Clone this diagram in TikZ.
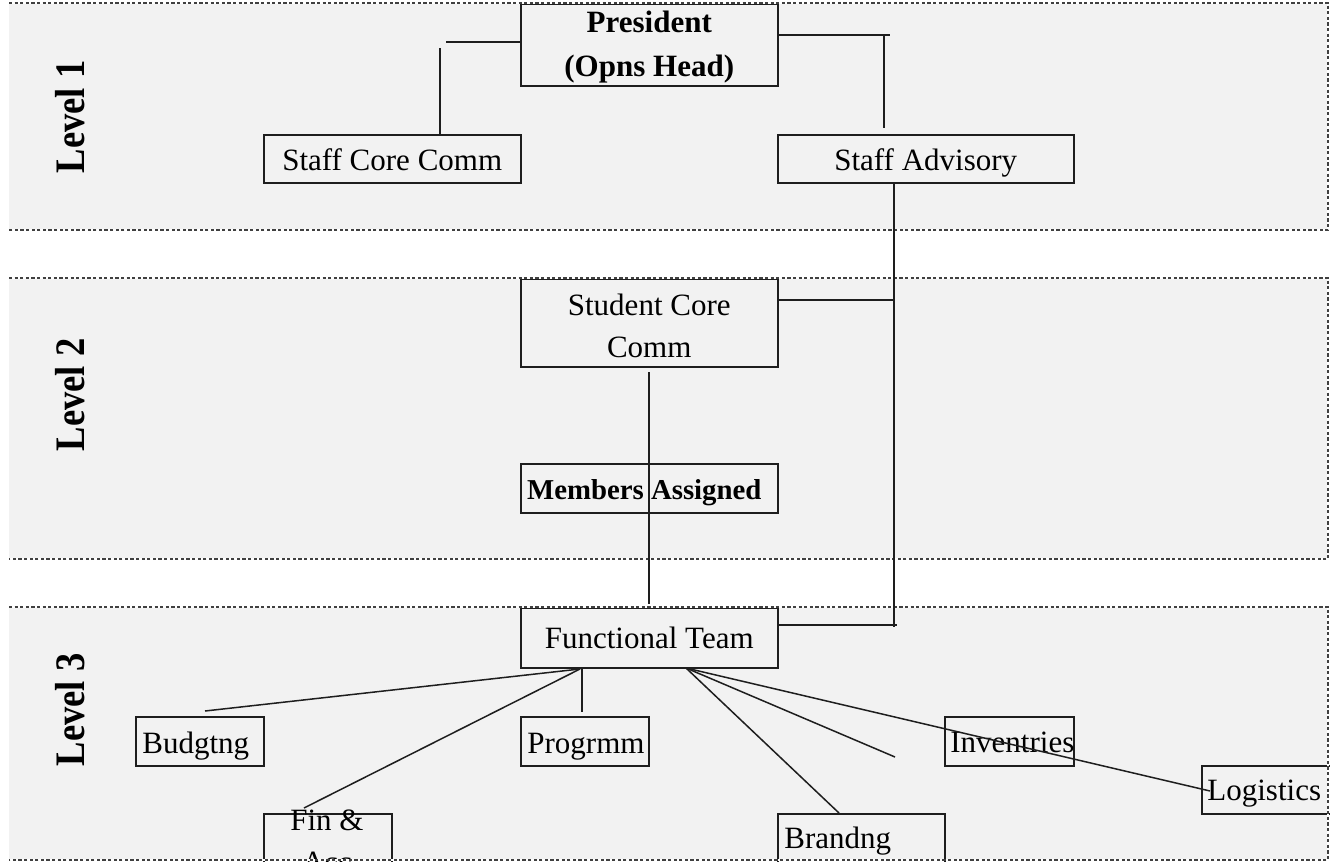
\documentclass[tikz,border=0pt]{standalone}
\usepackage{fontspec}
\setmainfont{Liberation Serif}
\usetikzlibrary{calc}
\definecolor{bandgray}{HTML}{F2F2F2}
\definecolor{ink}{HTML}{1E1E1E}
\newcommand{\lowerby}[2]{\raisebox{-#1}[\height][\depth]{#2}}
\begin{document}
\begin{tikzpicture}[x=0.5pt,y=-0.5pt,
  bandfill/.style={fill=bandgray, draw=none},
  bandedge/.style={draw=black!75, line width=0.6pt, dash pattern=on 1.6pt off 1.2pt,
    preaction={draw=white, solid, line width=0.9pt}},
  box/.style={draw=ink, line width=0.75pt, inner sep=0pt, anchor=north west,
    font=\fontsize{15.5}{22}\selectfont, align=center},
  txt/.style={inner sep=0pt, font=\fontsize{15.5}{21}\selectfont},
  conn/.style={draw=ink, line width=0.75pt},
  lvl/.style={rotate=90, inner sep=0pt, font=\fontsize{21}{24}\selectfont\bfseries}
]
\useasboundingbox (0,0) rectangle (1330,863);
% bands
\fill[bandfill] (9,3) rectangle (1328,230);
\fill[bandfill] (9,278) rectangle (1328,559);
\fill[bandfill] (9,607) rectangle (1328,860);

% boxes
\node[box, minimum width=128.5pt, minimum height=41pt, font=\fontsize{15.5}{22}\selectfont\bfseries] (pres) at (520,3) {\lowerby{1pt}{President}\\\lowerby{1pt}{(Opns Head)}};
\node[box, minimum width=128.5pt, minimum height=24pt] (scc) at (263,134) {\lowerby{0.5pt}{Staff Core Comm}};
\node[box, minimum width=148pt, minimum height=24pt] (sadv) at (777,134) {\lowerby{2pt}{Staff Advisory}};
\node[box, minimum width=128.5pt, minimum height=44pt, font=\fontsize{15.5}{21}\selectfont] (stc) at (520,278) {\lowerby{1.5pt}{Student Core}\\\lowerby{1.5pt}{Comm}};
\node[box, minimum width=128.5pt, minimum height=24.5pt] (mem) at (520,463) {};
\node[txt, font=\fontsize{14.4}{20}\selectfont\bfseries] (tmem) at ($(mem.center)+(-5,4)$) {Members Assigned};
\node[box, minimum width=128.5pt, minimum height=30pt] (ft) at (520,607) {Functional Team};
\node[box, minimum width=64pt, minimum height=24.5pt] (bud) at (135,716) {};
\node[box, minimum width=64pt, minimum height=24.5pt] (prog) at (520,716) {};
\node[box, minimum width=64.5pt, minimum height=24.5pt] (inv) at (944,716) {};
\node[box, minimum width=64.5pt, minimum height=24pt] (logi) at (1201,765) {};
\node[txt, anchor=west] (tbud) at ($(bud.west)+(7,5)$) {Budgtng};
\node[txt, anchor=west] (tprog) at ($(prog.west)+(7,5)$) {Progrmm};
\node[txt, anchor=west] (tinv) at ($(inv.west)+(6,1)$) {Inventries};
\node[txt, anchor=west] (tlogi) at ($(logi.west)+(6,4)$) {Logistics};
\begin{scope}
  \clip (0,0) rectangle (1330,861);
  \node[box, minimum width=64pt, minimum height=27pt] (fin) at (263,813) {};
  \node[box, minimum width=83.5pt, minimum height=27pt] (brand) at (777,813) {};
  \node[txt, align=center] (tfin) at (327,841) {Fin \&\\Acc};
  \node[txt, anchor=west] (tbrand) at (784,841) {Brandng};
\end{scope}

% band edges
\foreach \ya/\yb in {3/230, 278/559, 607/860}{
  \draw[bandedge] (9,\ya) -- (1328,\ya) -- (1328,\yb) -- (9,\yb);
}

% connectors
\coordinate (pl) at (446,42);
\coordinate (plv) at (440,48);
\draw[conn] (pres.west |- pl) -- (pl);
\draw[conn] (plv) -- (scc.north -| plv);

\coordinate (pr) at (890,35);
\coordinate (prv) at (884,35);
\coordinate (prb) at (884,128);
\draw[conn] (pres.east |- pr) -- (pr);
\draw[conn] (prv) -- (prb);

\coordinate (sv) at (894,182);
\coordinate (svb) at (894,627);
\draw[conn] (sadv.south -| sv) -- (svb);
\draw[conn] (stc.east |- 0,300) -- (894,300);
\coordinate (fte) at (897,625);
\draw[conn] (ft.east |- fte) -- (fte);

\coordinate (sct) at (649,372);
\coordinate (scb) at (649,604);
\draw[conn] (sct) -- (scb);

\coordinate (fl) at (580,669);
\coordinate (fr) at (686,668);
\coordinate (budt) at (205,711);
\coordinate (fint) at (304,808);
\coordinate (progt) at (582,712);
\coordinate (brandt) at (839,813);
\coordinate (free) at (895,757);
\coordinate (logt) at (1210,791);
\draw[conn] (fl) -- (budt);
\draw[conn] (fl) -- (fint);
\draw[conn] (ft.south -| progt) -- (progt);
\draw[conn] (fr) -- (brandt);
\draw[conn] (fr) -- (free);
\draw[conn] (fr) -- (logt);

% level labels
\node[lvl] (l1) at (70,117) {\scalebox{0.87}[1]{Level 1}};
\node[lvl] (l2) at (70,395) {\scalebox{0.87}[1]{Level 2}};
\node[lvl] (l3) at (70,710) {\scalebox{0.87}[1]{Level 3}};
\end{tikzpicture}
\end{document}
